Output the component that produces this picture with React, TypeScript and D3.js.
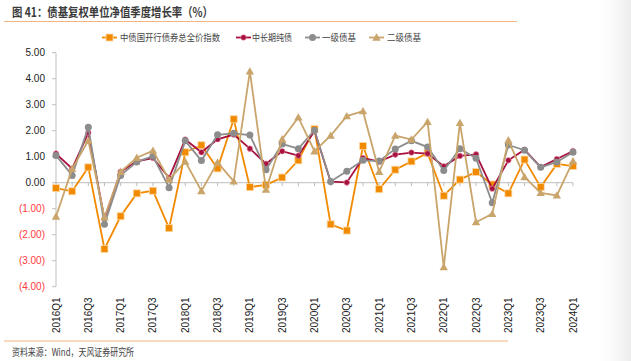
import React from "react";
import * as d3 from "d3";

const quarters: string[] = [];
for (let y = 2016; y <= 2024; y++) for (let q = 1; q <= 4; q++) if (!(y === 2024 && q > 1)) quarters.push(`${y}Q${q}`);

const guokai = [-0.21, -0.33, 0.59, -2.55, -1.29, -0.41, -0.31, -1.75, 1.17, 1.44, 0.55, 2.44, -0.17, -0.08, 0.2, 0.86, 2.06, -1.6, -1.84, 1.41, -0.25, 0.5, 0.82, 1.14, -0.5, 0.12, 0.41, -0.07, -0.41, 0.89, -0.17, 0.72, 0.64];
const zhongchang = [1.12, 0.54, 1.92, -1.39, 0.42, 0.82, 0.95, 0.19, 1.66, 1.17, 1.67, 1.85, 1.31, 0.73, 1.21, 1.04, 1.99, 0.04, 0.01, 0.95, 0.81, 1.08, 1.16, 1.12, 0.63, 1.03, 1.09, -0.23, 0.86, 1.27, 0.6, 0.91, 1.22];
const yiji = [1.05, 0.28, 2.13, -1.6, 0.28, 0.8, 1.02, -0.19, 1.61, 0.85, 1.84, 1.9, 1.83, 0.5, 1.49, 1.31, 2.02, 0.05, 0.44, 0.86, 0.83, 1.3, 1.61, 1.37, 0.47, 1.31, 0.94, -0.77, 1.45, 1.25, 0.59, 0.8, 1.17];
const erji = [-1.3, 0.53, 1.62, -1.33, 0.42, 0.96, 1.23, 0.12, 0.81, -0.32, 0.78, 0.05, 4.28, -0.27, 1.67, 2.51, 1.21, 1.81, 2.56, 2.75, 0.42, 1.81, 1.66, 2.34, -3.25, 2.3, -1.52, -1.2, 1.63, 0.22, -0.39, -0.49, 0.83];

const yTicks = [5, 4, 3, 2, 1, 0, -1, -2, -3, -4];

const series = [
  { name: "中债国开行债券总全价指数", values: guokai, color: "#F28A00", marker: "square" },
  { name: "中长期纯债", values: zhongchang, color: "#A8103E", marker: "diamond" },
  { name: "一级债基", values: yiji, color: "#8C8C8C", marker: "circle" },
  { name: "二级债基", values: erji, color: "#C9A56B", marker: "triangle" },
];

const W = 631, H = 361;
const CJK = "'Noto Sans CJK SC', 'Noto Sans', sans-serif";
const LAT = "'Liberation Sans', Arial, sans-serif";

function Marker({ type, x, y, color }: { type: string; x: number; y: number; color: string }) {
  if (type === "square") return <rect x={x - 3.5} y={y - 3.5} width={7} height={7} fill={color} stroke="#FBD9A8" strokeWidth={0.8} />;
  if (type === "diamond") return <circle cx={x} cy={y} r={2.8} fill={color} stroke="#E8A0B0" strokeWidth={0.6} />;
  if (type === "circle") return <circle cx={x} cy={y} r={3.5} fill={color} />;
  const s = 4.2;
  return <path d={`M${x},${y - s}L${x + s},${y + s * 0.75}L${x - s},${y + s * 0.75}Z`} fill={color} />;
}

export default function App() {
  const x = d3.scalePoint<string>().domain(quarters).range([56, 573]);
  const y = d3.scaleLinear().domain([-4, 5]).range([286.7, 52.7]);
  const line = d3.line<number>().x((_, i) => x(quarters[i]) as number).y((d) => y(d));
  const fmt = (v: number) => (v < 0 ? `(${Math.abs(v).toFixed(2)})` : v.toFixed(2));
  const legendItems = [
    { x: 102, tx: 120, w: 100 },
    { x: 236, tx: 252, w: 40 },
    { x: 305, tx: 322, w: 34 },
    { x: 369, tx: 387, w: 34 },
  ];
  return (
    <svg width={W} height={H} style={{ position: "absolute", left: 0, top: 0, background: "#fff" }}>
      <defs>
        <linearGradient id="edge" x1="0" x2="1" y1="0" y2="0">
          <stop offset="0" stopColor="#ffffff" stopOpacity={0} />
          <stop offset="1" stopColor="#ececec" stopOpacity={1} />
        </linearGradient>
      </defs>
      <text x={12} y={17} fontFamily={CJK} fontSize={12.5} fontWeight="bold" fill="#3a3a3a" textLength={201} lengthAdjust="spacingAndGlyphs">图 41：债基复权单位净值季度增长率（%）</text>
      <line x1={4} x2={517} y1={21.5} y2={21.5} stroke="#F2B483" strokeWidth={1.2} />
      {series.map((s, k) => (
        <g key={s.name}>
          <line x1={legendItems[k].x} x2={legendItems[k].x + 15} y1={37.5} y2={37.5} stroke={s.color} strokeWidth={1.8} />
          <Marker type={s.marker} x={legendItems[k].x + 7.5} y={37.5} color={s.color} />
          <text x={legendItems[k].tx} y={41} fontFamily={CJK} fontSize={9.5} fill="#444" textLength={legendItems[k].w} lengthAdjust="spacingAndGlyphs">{s.name}</text>
        </g>
      ))}
      <line x1={56} x2={56} y1={52.7} y2={286.7} stroke="#BFBFBF" strokeWidth={1} />
      {yTicks.map((t) => (
        <g key={t}>
          <line x1={52} x2={56} y1={y(t)} y2={y(t)} stroke="#BFBFBF" />
          <text x={45} y={y(t) + 3.5} textAnchor="end" fontFamily={LAT} fontSize={10} fill={t < 0 ? "#FF3B3B" : "#222"}>{fmt(t)}</text>
        </g>
      ))}
      <line x1={56} x2={573} y1={y(0)} y2={y(0)} stroke="#BFBFBF" strokeWidth={1} />
      {quarters.map((q) => (
        <line key={q} x1={x(q)} x2={x(q)} y1={y(0)} y2={y(0) + 3.5} stroke="#BFBFBF" />
      ))}
      {quarters.map((q, i) =>
        i % 2 === 0 ? (
          <text key={q} transform={`translate(${(x(q) as number) + 3.5},333) rotate(-90)`} fontFamily={LAT} fontSize={10} fill="#222">{q}</text>
        ) : null
      )}
      {series.map((s) => (
        <g key={s.name}>
          <path d={line(s.values) || ""} fill="none" stroke={s.color} strokeWidth={1.8} />
          {s.values.map((v, i) => (
            <Marker key={i} type={s.marker} x={x(quarters[i]) as number} y={y(v)} color={s.color} />
          ))}
        </g>
      ))}
      <line x1={4} x2={508} y1={341} y2={341} stroke="#F2B483" strokeWidth={1.2} />
      <text x={12} y={356} fontFamily={CJK} fontSize={10.5} fill="#444" textLength={122} lengthAdjust="spacingAndGlyphs">资料来源：Wind，天风证券研究所</text>
      <rect x={592} y={0} width={39} height={H} fill="url(#edge)" />
    </svg>
  );
}
